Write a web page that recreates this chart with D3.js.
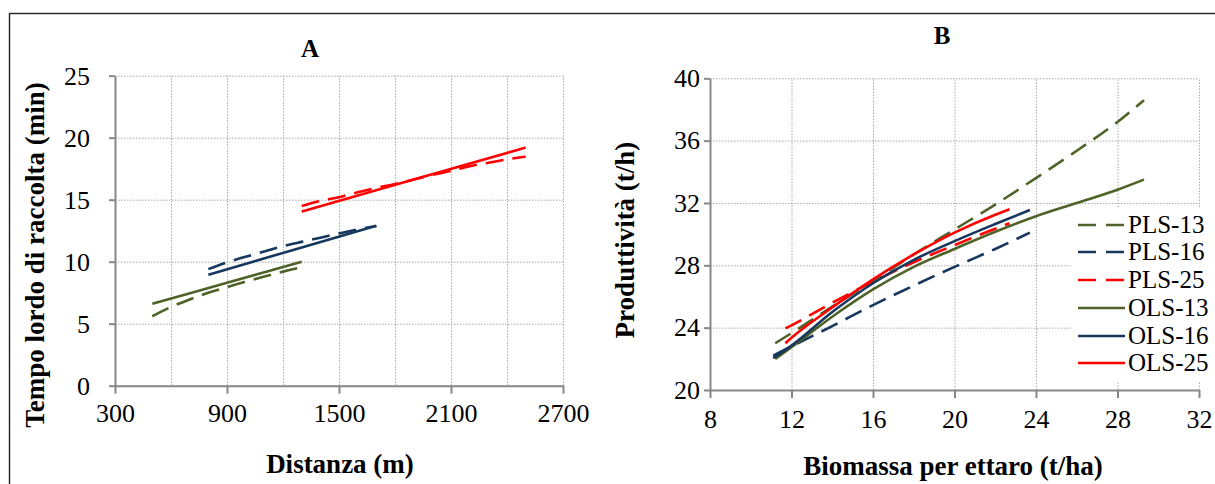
<!DOCTYPE html>
<html lang="it">
<head>
<meta charset="UTF-8">
<title>Tempo lordo di raccolta e produttività</title>
<script src="https://d3js.org/d3.v7.min.js"></script>
<style>
  body { margin: 0; background: #fff; }
  svg text { font-family: "Liberation Serif", "Times New Roman", serif; fill: #000; }
  .grid line { stroke: #a9a9a9; stroke-width: 1; stroke-dasharray: 1.5,1.5; }
  .grid path { display: none; }
  .axis path, .axis line { stroke: #878787; stroke-width: 2; }
  .title { font-weight: bold; }
</style>
</head>
<body>
<svg id="chart" width="1215" height="484"></svg>
<script>
// series names, order as in the legend
const seriesNames = ["PLS-13", "PLS-16", "PLS-25", "OLS-13", "OLS-16", "OLS-25"];
const seriesColors = ["#4f6228", "#17375e", "#ff0000", "#4f6228", "#17375e", "#ff0000"];
const seriesDashed = [true, true, true, false, false, false];

// Panel A: Distanza (m) -> Tempo lordo di raccolta (min)
const distPLS13 = [500, 600, 700, 800, 900, 1000, 1100, 1200, 1300];
const tempoPLS13 = [5.6, 6.35, 6.95, 7.5, 7.95, 8.4, 8.8, 9.2, 9.55];
const distPLS16 = [800, 900, 1000, 1100, 1200, 1300, 1400, 1500, 1600, 1700];
const tempoPLS16 = [9.4, 9.95, 10.4, 10.83, 11.25, 11.6, 11.93, 12.28, 12.6, 12.88];
const distPLS25 = [1300, 1400, 1500, 1600, 1700, 1800, 1900, 2000, 2100, 2200, 2300, 2400, 2500];
const tempoPLS25 = [14.5, 14.9, 15.2, 15.6, 15.95, 16.27, 16.63, 17.0, 17.33, 17.7, 17.98, 18.25, 18.47];
const distOLS13 = [500, 900, 1300];
const tempoOLS13 = [6.6, 8.3, 10.0];
const distOLS16 = [800, 1250, 1700];
const tempoOLS16 = [8.95, 10.93, 12.9];
const distOLS25 = [1300, 1900, 2500];
const tempoOLS25 = [14.05, 16.63, 19.2];

// Panel B: Biomassa per ettaro (t/ha) -> Produttività (t/h)
const bioPLS13 = [11.2, 12, 14, 16, 18, 20, 22, 24, 26, 28, 29.3];
const prodPLS13 = [23.0, 23.65, 25.35, 27.0, 28.7, 30.3, 31.9, 33.6, 35.35, 37.2, 38.6];
const bioPLS16 = [11.1, 12, 14, 16, 18, 20, 22, 23.7];
const prodPLS16 = [22.2, 22.8, 24.1, 25.45, 26.7, 27.9, 29.05, 30.1];
const bioPLS25 = [11.7, 12, 14, 16, 18, 20, 22, 22.7];
const prodPLS25 = [23.95, 24.15, 25.6, 26.95, 28.2, 29.3, 30.35, 30.7];
const bioOLS13 = [11.2, 12, 14, 16, 18, 20, 22, 24, 26, 28, 29.3];
const prodOLS13 = [22.0, 22.75, 24.7, 26.45, 27.9, 29.05, 30.15, 31.15, 32.0, 32.85, 33.5];
const bioOLS16 = [11.1, 12, 14, 16, 18, 20, 22, 23.7];
const prodOLS16 = [22.05, 22.85, 25.0, 26.85, 28.35, 29.55, 30.65, 31.55];
const bioOLS25 = [11.7, 12, 14, 16, 18, 20, 22, 22.7];
const prodOLS25 = [23.0, 23.35, 25.3, 27.1, 28.7, 30.1, 31.25, 31.6];

// ticks
const ticksAx = [300, 900, 1500, 2100, 2700];
const gridAx = [600, 900, 1200, 1500, 1800, 2100, 2400, 2700];
const ticksAy = [0, 5, 10, 15, 20, 25];
const ticksBx = [8, 12, 16, 20, 24, 28, 32];
const ticksBy = [20, 24, 28, 32, 36, 40];

const SERIF = '"Liberation Serif", "Times New Roman", serif';

const zip = (xs, ys) => xs.map((x, i) => [x, ys[i]]);
const seriesA = [zip(distPLS13, tempoPLS13), zip(distPLS16, tempoPLS16), zip(distPLS25, tempoPLS25),
                 zip(distOLS13, tempoOLS13), zip(distOLS16, tempoOLS16), zip(distOLS25, tempoOLS25)];
const seriesB = [zip(bioPLS13, prodPLS13), zip(bioPLS16, prodPLS16), zip(bioPLS25, prodPLS25),
                 zip(bioOLS13, prodOLS13), zip(bioOLS16, prodOLS16), zip(bioOLS25, prodOLS25)];

const svg = d3.select("#chart");

// outer frame (runs off the right and bottom of the picture)
svg.append("rect")
    .attr("x", 9.5).attr("y", 13.5)
    .attr("width", 1300).attr("height", 600)
    .attr("fill", "none").attr("stroke", "#222").attr("stroke-width", 1.4);

function drawPanel(p) {
    const x = d3.scaleLinear().domain(p.xDomain).range([p.left, p.right]);
    const y = d3.scaleLinear().domain(p.yDomain).range([p.bottom, p.top]);
    const g = svg.append("g");

    // gridlines
    g.append("g").attr("class", "grid")
        .attr("transform", `translate(0,${p.bottom})`)
        .call(d3.axisBottom(x).tickValues(p.gridX).tickSize(-(p.bottom - p.top)).tickFormat(""));
    g.append("g").attr("class", "grid")
        .attr("transform", `translate(${p.left},0)`)
        .call(d3.axisLeft(y).tickValues(p.yTicks.filter(v => v !== p.yDomain[0])).tickSize(-(p.right - p.left)).tickFormat(""));

    // legend background hides the gridlines behind it
    if (p.legend) {
        g.append("rect")
            .attr("x", p.legend.x).attr("y", p.legend.y)
            .attr("width", p.legend.w).attr("height", p.legend.h)
            .attr("fill", "#fff");
    }

    // axes
    const xa = g.append("g").attr("class", "axis")
        .attr("transform", `translate(0,${p.bottom})`)
        .call(d3.axisBottom(x).tickValues(p.xTicks).tickSize(8).tickPadding(p.xPad).tickSizeOuter(0).tickFormat(d3.format("d")));
    const ya = g.append("g").attr("class", "axis")
        .attr("transform", `translate(${p.left},0)`)
        .call(d3.axisLeft(y).tickValues(p.yTicks).tickSize(6).tickPadding(p.yPad).tickSizeOuter(0).tickFormat(d3.format("d")));
    [xa, ya].forEach(a => {
        a.attr("font-family", null).attr("font-size", null);
        a.selectAll("text").style("font-family", SERIF).style("font-size", "26px").attr("fill", "#000");
    });

    // series lines
    const line = d3.line().x(d => x(d[0])).y(d => y(d[1])).curve(d3.curveMonotoneX);
    p.series.forEach((s, i) => {
        g.append("path")
            .attr("d", line(s))
            .attr("fill", "none")
            .attr("stroke", seriesColors[i])
            .attr("stroke-width", 2.6)
            .attr("stroke-dasharray", seriesDashed[i] ? "18,9" : null);
    });

    // titles
    g.append("text").attr("class", "title")
        .attr("x", p.letterX).attr("y", p.letterY)
        .attr("text-anchor", "middle").style("font-size", "25px")
        .text(p.letter);
    g.append("text").attr("class", "title")
        .attr("x", p.xTitleX).attr("y", p.xTitleY)
        .attr("text-anchor", "middle").style("font-size", "27px")
        .text(p.xTitle);
    g.append("text").attr("class", "title")
        .attr("transform", `translate(${p.yTitleX},${p.yTitleY}) rotate(-90)`)
        .attr("text-anchor", "middle").style("font-size", "27px")
        .text(p.yTitle);

    return { x, y };
}

drawPanel({
    xDomain: [300, 2700], yDomain: [0, 25],
    left: 115, right: 563, top: 75.7, bottom: 385.7,
    xTicks: ticksAx, gridX: gridAx, yTicks: ticksAy,
    xPad: 10, yPad: 19,
    series: seriesA,
    letter: "A", letterX: 310, letterY: 57,
    xTitle: "Distanza (m)", xTitleX: 340, xTitleY: 473,
    yTitle: "Tempo lordo di raccolta (min)", yTitleX: 44, yTitleY: 255
});

drawPanel({
    xDomain: [8, 32], yDomain: [20, 40],
    left: 710, right: 1199, top: 78.3, bottom: 390,
    xTicks: ticksBx, gridX: ticksBx.slice(1), yTicks: ticksBy,
    xPad: 12, yPad: 4,
    series: seriesB,
    legend: { x: 1071, y: 208, w: 150, h: 173 },
    letter: "B", letterX: 942, letterY: 44,
    xTitle: "Biomassa per ettaro (t/ha)", xTitleX: 953, xTitleY: 475,
    yTitle: "Produttività (t/h)", yTitleX: 634, yTitleY: 240
});

// legend
const legendRowY = [225, 252, 280, 308, 336, 363];
const lg = svg.append("g");
seriesNames.forEach((name, i) => {
    lg.append("line")
        .attr("x1", 1078).attr("x2", 1125)
        .attr("y1", legendRowY[i]).attr("y2", legendRowY[i])
        .attr("stroke", seriesColors[i]).attr("stroke-width", 2.6)
        .attr("stroke-dasharray", seriesDashed[i] ? "18,10" : null);
    lg.append("text")
        .attr("x", 1128).attr("y", legendRowY[i])
        .attr("dy", "0.33em")
        .style("font-size", "25px")
        .text(name);
});
</script>
</body>
</html>
